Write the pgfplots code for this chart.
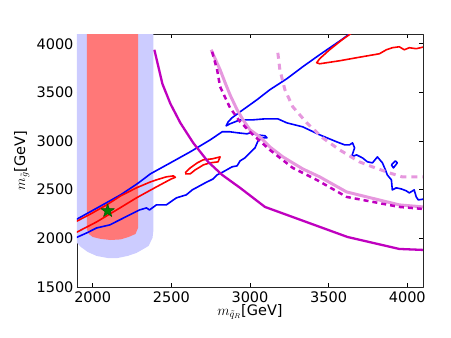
\documentclass[border=0pt]{standalone}
\usepackage{fontspec}
\setmainfont{DejaVu Sans}
\usepackage{pgfplots}
\pgfplotsset{compat=1.18}
\definecolor{bandblue}{RGB}{204,204,255}
\definecolor{bandred}{RGB}{255,120,120}
\definecolor{mpmag}{RGB}{191,0,191}
\definecolor{mppink}{RGB}{230,152,222}
\definecolor{mpgreen}{RGB}{0,128,0}
% filled five-point star
\pgfdeclareplotmark{fstar}{%
  \pgfpathmoveto{\pgfpoint{0pt}{\pgfplotmarksize}}%
  \pgfpathlineto{\pgfpoint{-0.2245\pgfplotmarksize}{0.309\pgfplotmarksize}}%
  \pgfpathlineto{\pgfpoint{-0.951\pgfplotmarksize}{0.309\pgfplotmarksize}}%
  \pgfpathlineto{\pgfpoint{-0.363\pgfplotmarksize}{-0.118\pgfplotmarksize}}%
  \pgfpathlineto{\pgfpoint{-0.588\pgfplotmarksize}{-0.809\pgfplotmarksize}}%
  \pgfpathlineto{\pgfpoint{0pt}{-0.382\pgfplotmarksize}}%
  \pgfpathlineto{\pgfpoint{0.588\pgfplotmarksize}{-0.809\pgfplotmarksize}}%
  \pgfpathlineto{\pgfpoint{0.363\pgfplotmarksize}{-0.118\pgfplotmarksize}}%
  \pgfpathlineto{\pgfpoint{0.951\pgfplotmarksize}{0.309\pgfplotmarksize}}%
  \pgfpathlineto{\pgfpoint{0.2245\pgfplotmarksize}{0.309\pgfplotmarksize}}%
  \pgfpathclose
  \pgfusepathqfillstroke
}
\begin{document}
\begin{tikzpicture}
\useasboundingbox (0pt,0pt) rectangle (451pt,338pt);
\begin{axis}[
  at={(77pt,51pt)}, anchor=south west,
  width=346pt, height=253pt, scale only axis,
  xmin=1900, xmax=4100, ymin=1500, ymax=4100,
  xtick={2000,2500,3000,3500,4000},
  ytick={1500,2000,2500,3000,3500,4000},
  tick align=inside, major tick length=4pt,
  tick style={black, line width=0.6pt},
  axis line style={black!85, line width=0.7pt},
  /pgf/number format/assume math mode=true,
  /pgf/number format/set thousands separator={},
  tick label style={font=\fontsize{14.5}{16}\selectfont},
  xticklabel style={yshift=-1pt},
  xlabel={$m_{\tilde{q}_R}$[GeV]},
  ylabel={$m_{\tilde{g}}$[GeV]},
  every axis x label/.style={at={(axis description cs:0.5,-0.111)}, anchor=base,
    font=\fontsize{14.5}{16}\selectfont},
  every axis y label/.style={at={(axis description cs:-0.150,0.5)}, anchor=base, rotate=90,
    font=\fontsize{14.5}{16}\selectfont},
  line join=round,
]
% bands
\addplot[fill=bandblue, draw=none] coordinates {
  (1880,4200) (2386,4200) (2386,2086) (2380,2004) (2355,1922) (2323,1891)
  (2278,1850) (2222,1819) (2158,1798) (2095,1798) (2025,1819) (1968,1860)
  (1924,1912) (1880,1990)} -- cycle;
\addplot[fill=bandred, draw=none] coordinates {
  (1962,4200) (2288,4200) (2288,2107) (2272,2045) (2228,2014) (2177,1989)
  (2114,1983) (2051,1994) (2000,2014) (1975,2045) (1962,2097)} -- cycle;
% blue contours
\addplot[blue, line width=1.6pt] coordinates {
  (1890,2189) (2051,2333) (2177,2447) (2291,2570) (2367,2663) (2494,2776)
  (2620,2889) (2747,3012) (2823,3095) (2873,3095) (2924,3084) (2981,3074)
  (3000,3084) (3044,3064) (3095,3054) (3108,3033) (3076,3033) (3051,3002)
  (3032,2930) (3000,2879) (2968,2827) (2937,2796) (2918,2745) (2886,2735)
  (2829,2683) (2791,2652) (2766,2611) (2715,2570) (2633,2498) (2595,2447)
  (2532,2416) (2513,2395) (2468,2344) (2405,2344) (2361,2292) (2342,2313)
  (2298,2292) (2234,2241) (2171,2189) (2108,2138) (2025,2107) (1962,2056)
  (1890,2004)};
\addplot[blue, line width=1.6pt] coordinates {
  (3640,4110) (3582,4041) (3443,3887) (3335,3763) (3234,3640) (3126,3527)
  (3044,3424) (2937,3300) (2886,3239) (2861,3198) (2848,3156) (2873,3177)
  (2937,3218) (3019,3218) (3095,3228) (3177,3228) (3234,3187) (3335,3146)
  (3443,3064) (3551,2992) (3601,2961) (3633,2961) (3652,2981) (3665,2930)
  (3646,2837) (3677,2858) (3715,2827) (3747,2786) (3779,2776) (3810,2837)
  (3842,2776) (3861,2704) (3873,2652) (3899,2601) (3905,2498) (3930,2519)
  (3962,2508) (3994,2488) (4013,2467) (4044,2498) (4057,2426) (4070,2395)
  (4110,2405)};
\addplot[blue, line width=1.6pt] coordinates {
  (3899,2755) (3924,2796) (3937,2776) (3912,2724) (3899,2755)};
% red contours
\addplot[red, line width=1.6pt] coordinates {
  (1890,2169) (1987,2251) (2089,2344) (2177,2436) (2278,2519) (2367,2580)
  (2405,2601) (2468,2632) (2513,2642) (2525,2627) (2500,2611) (2405,2529)
  (2278,2416) (2152,2292) (2025,2169) (1890,2056)};
\addplot[red, line width=1.6pt] coordinates {
  (2588,2673) (2620,2724) (2665,2776) (2703,2807) (2760,2817) (2810,2837)
  (2797,2786) (2747,2776) (2703,2755) (2684,2735) (2652,2704) (2620,2663)
  (2588,2663)};
\addplot[red, line width=1.6pt] coordinates {
  (3646,4110) (3582,4036) (3506,3938) (3443,3846) (3424,3805) (3443,3794)
  (3570,3825) (3677,3856) (3823,3897) (3867,3938) (3905,3959) (3949,3969)
  (3981,3938) (4013,3959) (4057,3949) (4110,3969)};
% exclusion lines
\addplot[mpmag, line width=2.3pt] coordinates {
  (2392,3938) (2443,3588) (2494,3383) (2557,3187) (2639,2981) (2734,2786)
  (2823,2652) (2937,2519) (3095,2323) (3620,2014) (3949,1891) (4100,1881)};
\addplot[mppink, line width=3pt] coordinates {
  (2753,3938) (2810,3732) (2842,3599) (2873,3475) (2918,3321) (2956,3218)
  (3000,3115) (3063,3043) (3126,2940) (3209,2837) (3335,2714) (3443,2632)
  (3614,2477) (3949,2344) (4100,2323)};
\addplot[mpmag, line width=2.5pt, dash pattern=on 5pt off 4pt] coordinates {
  (2759,3918) (2791,3732) (2810,3558) (2873,3342) (2937,3198) (3019,3064)
  (3126,2909) (3272,2724) (3424,2601) (3614,2426) (3949,2323) (4100,2302)};
\addplot[mppink, line width=3pt, dash pattern=on 6pt off 5pt] coordinates {
  (3177,3907) (3190,3732) (3222,3527) (3272,3352) (3361,3187) (3462,3033)
  (3570,2909) (3696,2786) (3778,2735) (3886,2673) (3968,2632) (4100,2632)};
% benchmark point
\addplot[only marks, mark=fstar, mark size=7pt,
  mark options={fill=mpgreen, draw=mpgreen!70!black, line width=0.5pt}]
  coordinates {(2095,2282)};
\end{axis}
\end{tikzpicture}
\end{document}
